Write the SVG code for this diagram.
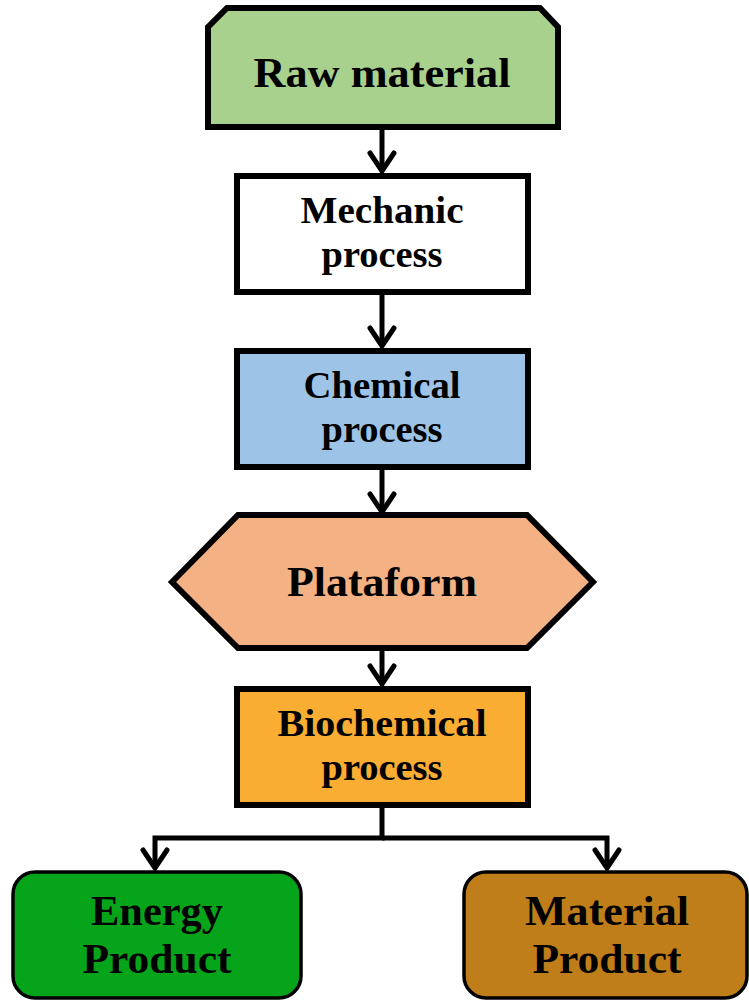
<svg xmlns="http://www.w3.org/2000/svg" width="749" height="1001" viewBox="0 0 749 1001">
<style>
.box{stroke:#000;stroke-width:6;stroke-linejoin:miter}
.rbox{stroke:#000;stroke-width:3.5}
.t{font-family:"Liberation Serif","Times New Roman",serif;font-weight:bold;fill:#000;text-anchor:middle}
.conn{fill:none;stroke:#000;stroke-width:5;stroke-linejoin:miter}
</style>
<defs>
<marker id="arr" markerUnits="userSpaceOnUse" markerWidth="40" markerHeight="40" viewBox="-30 -20 40 40" refX="0" refY="0" orient="auto" overflow="visible">
<path d="M-18,-12 L0,0 L-18,12" fill="none" stroke="#000" stroke-width="5" stroke-linecap="round" stroke-linejoin="miter"/>
</marker>
</defs>
<rect width="749" height="1001" fill="#fff"/>
<g id="connectors">
<line class="conn" x1="382" y1="127" x2="382" y2="171" marker-end="url(#arr)"/>
<line class="conn" x1="382" y1="292" x2="382" y2="346" marker-end="url(#arr)"/>
<line class="conn" x1="382" y1="467" x2="382" y2="512" marker-end="url(#arr)"/>
<line class="conn" x1="382" y1="648" x2="382" y2="684" marker-end="url(#arr)"/>
<polyline class="conn" points="382,805 382,838 155,838 155,868" marker-end="url(#arr)"/>
<polyline class="conn" points="382,838 607,838 607,868" marker-end="url(#arr)"/>
</g>
<g id="raw-material">
<path class="box" d="M208,27 L227,8 L540,8 L558,27 L558,127 L208,127 Z" fill="#A9D18E"/>
<text class="t" x="382" y="87" font-size="42" textLength="257" lengthAdjust="spacingAndGlyphs">Raw material</text>
</g>
<g id="mechanic-process">
<rect class="box" x="237" y="176" width="291" height="116" fill="#fff"/>
<text class="t" x="382" y="223" font-size="37" textLength="163" lengthAdjust="spacingAndGlyphs">Mechanic</text>
<text class="t" x="382" y="267" font-size="37" textLength="121" lengthAdjust="spacingAndGlyphs">process</text>
</g>
<g id="chemical-process">
<rect class="box" x="237" y="351" width="291" height="116" fill="#9DC3E6"/>
<text class="t" x="382" y="398" font-size="37" textLength="157" lengthAdjust="spacingAndGlyphs">Chemical</text>
<text class="t" x="382" y="442" font-size="37" textLength="121" lengthAdjust="spacingAndGlyphs">process</text>
</g>
<g id="plataform">
<path class="box" d="M172,582 L238,515 L527,515 L593,582 L527,648 L238,648 Z" fill="#F4B183"/>
<text class="t" x="382" y="596" font-size="42" textLength="190" lengthAdjust="spacingAndGlyphs">Plataform</text>
</g>
<g id="biochemical-process">
<rect class="box" x="237" y="689" width="291" height="116" fill="#FAAD33"/>
<text class="t" x="382" y="736" font-size="37" textLength="209" lengthAdjust="spacingAndGlyphs">Biochemical</text>
<text class="t" x="382" y="780" font-size="37" textLength="121" lengthAdjust="spacingAndGlyphs">process</text>
</g>
<g id="energy-product">
<rect class="rbox" x="13" y="872" width="288" height="126" rx="22" fill="#06A41A"/>
<text class="t" x="157" y="925" font-size="43" textLength="132" lengthAdjust="spacingAndGlyphs">Energy</text>
<text class="t" x="157" y="973" font-size="43" textLength="149" lengthAdjust="spacingAndGlyphs">Product</text>
</g>
<g id="material-product">
<rect class="rbox" x="464" y="872" width="283" height="126" rx="22" fill="#C07E1B"/>
<text class="t" x="607" y="925" font-size="43" textLength="164" lengthAdjust="spacingAndGlyphs">Material</text>
<text class="t" x="607" y="973" font-size="43" textLength="149" lengthAdjust="spacingAndGlyphs">Product</text>
</g>
</svg>
